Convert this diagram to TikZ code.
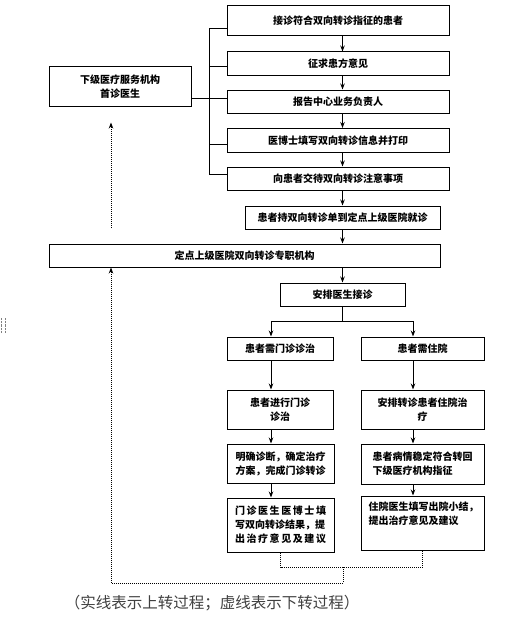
\documentclass[tikz,border=0pt]{standalone}
\usepackage{fontspec}
\newfontfamily\cjk{Noto Sans CJK SC}
\usetikzlibrary{arrows.meta}
\tikzstyle{box}=[draw, line width=1pt, inner sep=0pt, align=center, font=\cjk\bfseries\fontsize{10}{14}\selectfont]
\tikzstyle{link}=[line width=1pt]
\tikzstyle{arr}=[line width=1pt, -{Stealth[length=6pt,width=4.5pt]}]
\tikzstyle{back}=[line width=1pt, densely dotted, -{Stealth[length=6pt,width=4.5pt]}]

\begin{document}
\begin{tikzpicture}[x=1pt, y=-1pt]
    \useasboundingbox (0,0) rectangle (519,618);
% Upper chain
    \node[box, minimum width=142pt, minimum height=39pt] (lb) at (120,86.5) {下级医疗服务机构\\首诊医生};
    \node[box, minimum width=222pt, minimum height=30pt] (b1) at (338,21) {接诊符合双向转诊指征的患者};
    \node[box, minimum width=222pt, minimum height=23pt] (b2) at (338,63.5) {征求患方意见};
    \node[box, minimum width=222pt, minimum height=23pt] (b3) at (338,101.5) {报告中心业务负责人};
    \node[box, minimum width=222pt, minimum height=24pt] (b4) at (338,140.5) {医博士填写双向转诊信息并打印};
    \node[box, minimum width=222pt, minimum height=23pt] (b5) at (338,178.5) {向患者交待双向转诊注意事项};
    \node[box, minimum width=195pt, minimum height=23pt] (b6) at (342.5,217.5) {患者持双向转诊单到定点上级医院就诊};
    \node[box, minimum width=391pt, minimum height=23pt] (b7) at (244.5,255.5) {定点上级医院双向转诊专职机构};
    \node[box, minimum width=125pt, minimum height=23pt] (a1) at (342.5,294.5) {安排医生接诊};
% Outpatient column
    \node[box, minimum width=106pt, minimum height=23pt] (o1) at (280,348.5) {患者需门诊诊治};
    \node[box, minimum width=106pt, minimum height=39pt] (o2) at (280,409.5) {患者进行门诊\\诊治};
    \node[box, minimum width=107pt, minimum height=39pt, align=left] (o3) at (280.5,463.5) {明确诊断，确定治疗\\方案，完成门诊转诊};
    \node[box, minimum width=107pt, minimum height=54pt, align=left] (o4) at (280.5,525)
        {\makebox[91pt][s]{门 诊 医 生 医 博 士 填}\\写双向转诊结果，提\\\makebox[91pt][s]{出 治 疗 意 见 及 建 议}};
% Inpatient column
    \node[box, minimum width=123pt, minimum height=23pt] (h1) at (422.5,348.5) {患者需住院};
    \node[box, minimum width=123pt, minimum height=39pt] (h2) at (422.5,409.5) {安排转诊患者住院治\\疗};
    \node[box, minimum width=123pt, minimum height=40pt, align=left] (h3) at (422.5,464) {患者病情稳定符合转回\\下级医疗机构指征};
    \node[box, minimum width=123pt, minimum height=54pt] (h4) at (422.5,523)
        {\parbox[c][52pt][t]{108pt}{\vspace*{5pt}住院医生填写出院小结，\\提出治疗意见及建议}};
% Left bracket
    \draw[link] (b1.west |- 0,29) -- (209,29) -- (209,174) -- (b5.west |- 0,174);
    \draw[link] (209,67) -- (b2.west |- 0,67);
    \draw[link] (lb.east |- 0,98) -- (b3.west |- 0,98);
    \draw[link] (209,144) -- (b4.west |- 0,144);
% Solid arrows
    \draw[arr] (b1.south -| b6.south) -- (b2.north -| b6.south);
    \draw[arr] (b2.south -| b6.south) -- (b3.north -| b6.south);
    \draw[arr] (b3.south -| b6.south) -- (b4.north -| b6.south);
    \draw[arr] (b4.south -| b6.south) -- (b5.north -| b6.south);
    \draw[arr] (b5.south -| b6.north) -- (b6.north);
    \draw[arr] (b6.south) -- (b6.south |- b7.north);
    \draw[arr] (a1.north |- b7.south) -- (a1.north);
    \coordinate (lcol) at (271,321);
    \coordinate (rcol) at (413,321);
    \draw[link] (a1.south) -- (a1.south |- lcol);
    \draw[link] (lcol) -- (rcol);
    \draw[arr] (lcol) -- (lcol |- o1.north);
    \draw[arr] (rcol) -- (rcol |- h1.north);
    \draw[arr] (o1.south -| lcol) -- (o2.north -| lcol);
    \draw[arr] (o2.south -| lcol) -- (o3.north -| lcol);
    \draw[arr] (o3.south -| lcol) -- (o4.north -| lcol);
    \draw[arr] (h1.south -| rcol) -- (h2.north -| rcol);
    \draw[arr] (h2.south -| rcol) -- (h3.north -| rcol);
    \draw[arr] (h3.south -| rcol) -- (h4.north -| rcol);
% Dotted return paths
    \draw[link, densely dotted] (o4.south) -- (o4.south |- 0,567) -- (h4.south |- 0,567) -- (h4.south);
    \draw[back] (343,567) |- (111,583) -- (b7.south -| 111,0);
    \draw[back, shorten <=16pt, shorten >=16pt] (b7.north -| 111,0) -- (lb.south -| 111,0);
    \draw[densely dotted, black!50] (1,318) -- (1,333);
    \draw[densely dotted, black!50] (5,318) -- (5,333);
% Note
    \node[font=\cjk\fontsize{15.5}{17}\selectfont, text=black!75] (note) at (212,603) {（实线表示上转过程；虚线表示下转过程）};
\end{tikzpicture}
\end{document}
